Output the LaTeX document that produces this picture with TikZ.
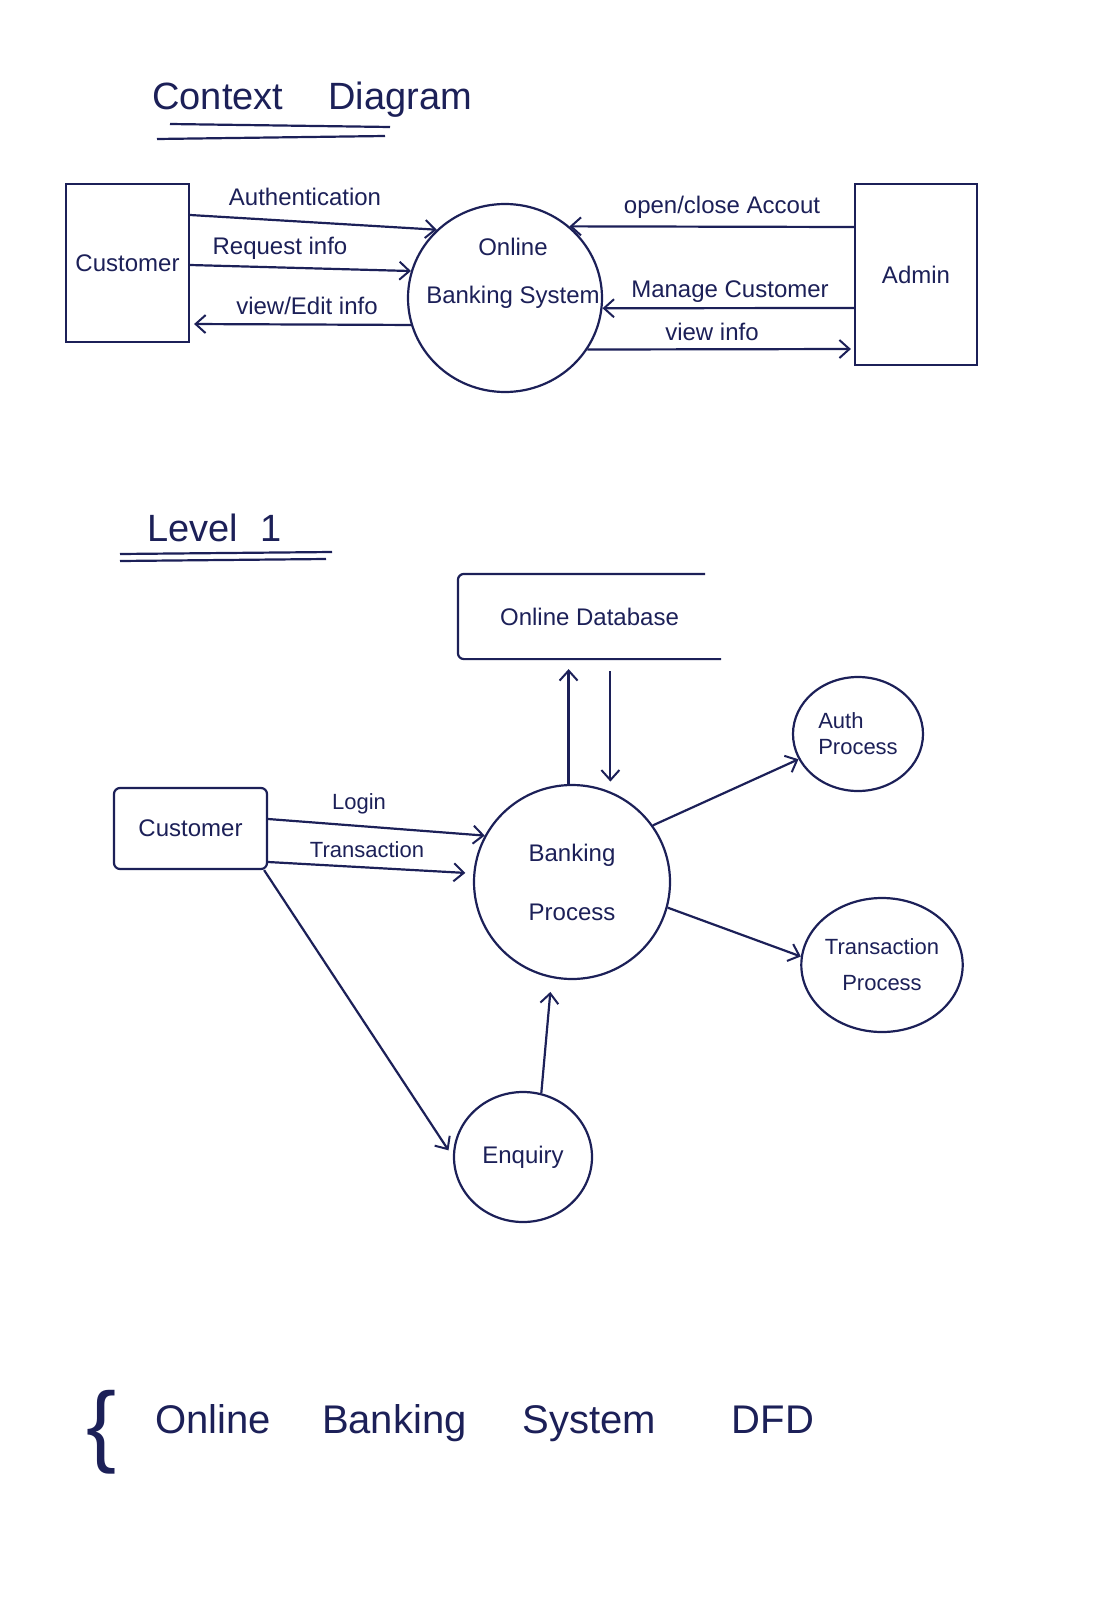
\documentclass[tikz,border=0pt]{standalone}
\usepackage{fontspec}
\setmainfont{Liberation Sans}
\usetikzlibrary{arrows.meta,shapes.geometric,calc}
\definecolor{ink}{RGB}{28,32,88}
\begin{document}
\begin{tikzpicture}[x=1pt,y=-1pt,color=ink,line width=2.2pt,
  arr/.style={-{Straight Barb[length=10pt,width=18pt,line width=2pt]}},
  box/.style={draw,rectangle,inner sep=0pt},
  bubble/.style={draw,ellipse,inner sep=0pt,align=center},
  lbl/.style={font=\fontsize{24}{28}\selectfont},
  lbs/.style={font=\fontsize{22}{26}\selectfont},
  ttlf/.style={font=\fontsize{38}{42}\selectfont}]
\useasboundingbox[fill=white] (0,0) rectangle (1103,1600);

% ---------- Context diagram ----------
\node[ttlf,anchor=base west] (ctitle) at (148,110) {Context\hspace{45pt}Diagram};
\draw (170,124) -- (390,127);
\draw (157,139) -- (385,136);

\node[box,lbl,minimum width=123pt,minimum height=158pt] (cust0) at (127.5,263) {Customer};
\node[bubble,minimum width=194pt,minimum height=188pt] (obs) at (505,298) {};
\node[lbl,align=center] (obst) at (513,273) {Online\\[20pt]Banking System};
\node[box,lbl,minimum width=122pt,minimum height=181pt] (adm) at (916,274.5) {Admin};

\draw[arr] (cust0.east |- 0,215) -- (obs.135);
\draw[arr] (cust0.east |- 0,265) -- (obs.164);
\draw[arr,shorten >=4pt] (obs.196) -- (cust0.east |- 0,324);
\draw[arr] (adm.west |- 0,227) -- (obs.48);
\draw[arr] (adm.west |- 0,308) -- (obs.354);
\draw[arr,shorten >=3pt] (obs.328) -- (adm.west |- 0,349);

\node[lbl] (lauth) at (305,197) {Authentication};
\node[lbl] (lreq) at (280,248) {Request info};
\node[lbl] (lview) at (307,306) {view/Edit info};
\node[lbl] (lopen) at (722,207) {open/close Accout};
\node[lbl] (lman) at (730,292) {Manage Customer};
\node[lbl] (lvi) at (712,332) {view info};

% ---------- Level 1 ----------
\node[ttlf,anchor=base west] (ltitle) at (143,541) {Level\hspace{22pt}1};
\draw (120,554) -- (332,552);
\draw (120,561) -- (326,559);

\node[lbl,minimum width=261pt,minimum height=83pt,inner sep=0pt] (db) at (589.5,616.5) {Online Database};
\draw[rounded corners=6pt] ([xshift=-16pt]db.north east) -- (db.north west) -- (db.south west) -- (db.south east);

\node[bubble,lbl,minimum width=196pt,minimum height=194pt] (bp) at (572,882) {Banking\\[31pt]Process};
\node[box,lbl,rounded corners=6pt,minimum width=153pt,minimum height=81pt] (c1) at (190.5,828.5) {Customer};
\node[bubble,lbl,minimum width=138pt,minimum height=130pt] (enq) at (523,1157) {Enquiry};
\node[bubble,lbs,align=left,minimum width=130pt,minimum height=114pt] (auth) at (858,734) {Auth\\Process};
\node[bubble,lbs,minimum width=158pt,minimum height=134pt] (trn) at (882,965) {Transaction\\[10pt]Process};

\draw[arr,shorten >=10pt] (bp.92) -- (bp.92 |- db.south);
\draw[arr,shorten <=12pt,shorten >=10pt] (bp.67 |- db.south) -- (bp.67);

\draw[arr] (c1.east |- 0,819) -- (bp.152);
\draw[arr,shorten >=8pt] (c1.east |- 0,862) -- (bp.175);
\draw[arr,shorten >=8pt] ([xshift=-4pt]c1.south east) -- (enq.west);
\draw[arr,shorten >=14pt] (enq.74) -- (bp.258);
\draw[arr] (bp.35) -- (auth.203);
\draw[arr] (bp.345) -- (trn.174);

\node[lbs] (llog) at (359,804) {Login};
\node[lbs] (ltr) at (367,850) {Transaction};

% ---------- Bottom title ----------
\node[font=\fontsize{90}{90}\selectfont] (brc) at (102,1432) {\{};
\node[anchor=base west,font=\fontsize{40}{44}\selectfont] (btitle) at (151,1433)
  {Online\hspace{51pt}Banking\hspace{56pt}System\hspace{76pt}DFD};
\end{tikzpicture}
\end{document}
